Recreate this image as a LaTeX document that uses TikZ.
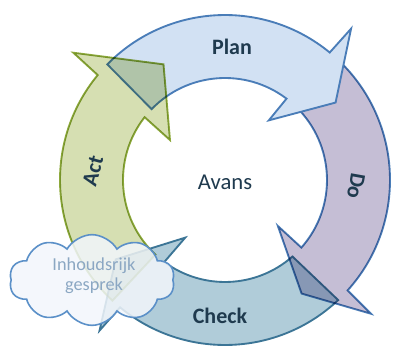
\documentclass[tikz,border=0pt]{standalone}
\usepackage{fontspec}
\setmainfont{Carlito}
\usetikzlibrary{shapes.symbols}
\definecolor{planfill}{HTML}{D2E1F3}
\definecolor{planline}{HTML}{4A7DB8}
\definecolor{dofill}{HTML}{C5BED5}
\definecolor{checkfill}{HTML}{B0CCD9}
\definecolor{checkline}{HTML}{3C7596}
\definecolor{actfill}{HTML}{D6DFB2}
\definecolor{actline}{HTML}{8DA93C}
\definecolor{wolkline}{HTML}{5B90C8}
\definecolor{wolkfill}{HTML}{F2F6FB}
\definecolor{labeltext}{HTML}{1F3A4E}
\definecolor{wolktext}{HTML}{8BA7C3}

\begin{document}
\begin{tikzpicture}[x=0.75pt, y=0.75pt,
	pijl/.style={line width=1.4pt, line join=miter},
	fase/.style={font=\fontsize{16.5}{20}\selectfont\bfseries, text=labeltext}]
	\useasboundingbox (-225,-167) rectangle (168,180);
	%%%	Frecce
	% Check
	\draw[pijl, draw=checkline, fill=checkfill] (-46.7:165) arc[start angle=-46.7, end angle=-129.5, radius=165]
		-- (-129.8:196) -- (-144:135) -- (-124.6:70) -- (-126.5:102) arc[start angle=-126.5, end angle=-48.6, radius=102] -- cycle;
	% Do
	\draw[pijl, draw=planline, fill=dofill, blend mode=multiply] (46:165) arc[start angle=46, end angle=-42, radius=165]
		-- (-42.5:198) -- (-56:137) -- (-41:70) -- (-41.5:102) arc[start angle=-41.5, end angle=46, radius=102] -- cycle;
	% Plan
	\draw[pijl, draw=planline, fill=planfill] (135.5:165) arc[start angle=135.5, end angle=50.6, radius=165]
		-- (50.2:197) -- (35:135) -- (53.7:74) -- (52.9:102) arc[start angle=52.9, end angle=136, radius=102] -- cycle;
	% Act
	\draw[pijl, draw=actline, fill=actfill, blend mode=multiply] (227:165) arc[start angle=227, end angle=140.5, radius=165]
		-- (140:198) -- (118:131) -- (144:68) -- (142:102) arc[start angle=142, end angle=227, radius=102] -- cycle;
	%%%	Testi
	\node[fase] (plan) at (7,133) {Plan};
	\node[fase, rotate=-100] (do) at (131,-6) {Do};
	\node[fase] (check) at (-5,-136) {Check};
	\node[fase, rotate=75] (act) at (-132,9) {Act};
	\node[font=\fontsize{17}{20}\selectfont, text=labeltext] (avans) at (0,-2.5) {Avans};
	% Wolk
	\node[cloud, cloud puffs=10, cloud puff arc=120, cloud ignores aspect, draw=wolkline, line width=1.2pt,
		fill=wolkfill, fill opacity=0.85, minimum width=124pt, minimum height=68pt, inner sep=0pt] (wolk) at (-133,-100) {};
	\node[align=center, text=wolktext, font=\fontsize{13.7}{15}\selectfont] (gesprek) at (-131,-96) {Inhoudsrijk\\gesprek};
\end{tikzpicture}
\end{document}
